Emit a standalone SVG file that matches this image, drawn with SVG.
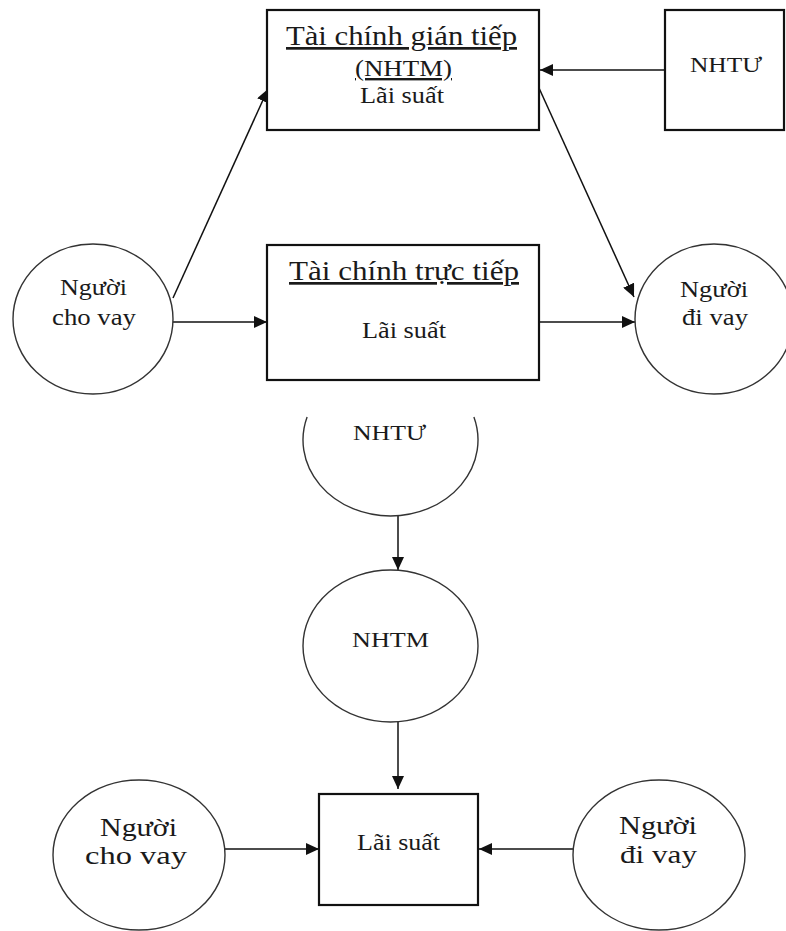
<svg xmlns="http://www.w3.org/2000/svg" width="786" height="931" viewBox="0 0 786 931">
<style>
.box{fill:#fff;stroke:#111;stroke-width:2.2}
.ell{fill:#fff;stroke:#333;stroke-width:1.4}
.t{font-family:"Liberation Serif","Times New Roman",serif;fill:#1a1a1a}
.u{text-decoration:underline}
.c{fill:none;stroke:#111;stroke-width:1.5;marker-end:url(#ah)}
</style>
<defs>
<marker id="ah" markerUnits="userSpaceOnUse" markerWidth="13" markerHeight="12" refX="13" refY="6" orient="auto">
<path d="M0,0 L13,6 L0,12 z" fill="#111"/>
</marker>
</defs>
<rect width="786" height="931" fill="#fff"/>
<g id="connectors">
<line class="c" x1="173" y1="298" x2="268" y2="89"/>
<line class="c" x1="173" y1="322" x2="267" y2="322"/>
<line class="c" x1="665" y1="70" x2="540" y2="70"/>
<line class="c" x1="539" y1="88" x2="634" y2="297"/>
<line class="c" x1="539" y1="322" x2="635" y2="322"/>
<line class="c" x1="398" y1="516" x2="398" y2="570"/>
<line class="c" x1="398" y1="721" x2="398" y2="789"/>
<line class="c" x1="225" y1="849" x2="319" y2="849"/>
<line class="c" x1="573" y1="849" x2="479" y2="849"/>
</g>
<g id="gian-tiep">
<rect class="box" x="267" y="10" width="272" height="120"/>
<text class="t u" x="286" y="45" font-size="27" textLength="231" lengthAdjust="spacingAndGlyphs">Tài chính gián tiếp</text>
<text class="t u" x="355" y="76" font-size="24" textLength="97" lengthAdjust="spacingAndGlyphs">(NHTM)</text>
<text class="t" x="360" y="103" font-size="23" textLength="84" lengthAdjust="spacingAndGlyphs">Lãi suất</text>
</g>
<g id="nhtu-box">
<rect class="box" x="665" y="10" width="119" height="120"/>
<text class="t" x="690" y="72" font-size="22" textLength="72" lengthAdjust="spacingAndGlyphs">NHTƯ</text>
</g>
<g id="truc-tiep">
<rect class="box" x="267" y="245" width="272" height="135"/>
<text class="t u" x="289" y="280" font-size="27" textLength="230" lengthAdjust="spacingAndGlyphs">Tài chính trực tiếp</text>
<text class="t" x="362" y="338" font-size="23" textLength="84" lengthAdjust="spacingAndGlyphs">Lãi suất</text>
</g>
<g id="nguoi-cho-vay-1">
<ellipse class="ell" cx="93" cy="319" rx="80" ry="75"/>
<text class="t" x="60" y="295" font-size="23" textLength="67" lengthAdjust="spacingAndGlyphs">Người</text>
<text class="t" x="52" y="325" font-size="23" textLength="84" lengthAdjust="spacingAndGlyphs">cho vay</text>
</g>
<g id="nguoi-di-vay-1">
<ellipse class="ell" cx="714" cy="319" rx="79" ry="75"/>
<text class="t" x="680" y="297" font-size="23" textLength="68" lengthAdjust="spacingAndGlyphs">Người</text>
<text class="t" x="682" y="325" font-size="23" textLength="66" lengthAdjust="spacingAndGlyphs">đi vay</text>
</g>
<g id="nhtu-circle">
<path class="ell" d="M307.1,417 A87.5,76 0 1 0 473.9,417"/>
<text class="t" x="353" y="440" font-size="22" textLength="73" lengthAdjust="spacingAndGlyphs">NHTƯ</text>
</g>
<g id="nhtm-circle">
<ellipse class="ell" cx="390.5" cy="646" rx="87.5" ry="76"/>
<text class="t" x="352" y="647" font-size="22" textLength="77" lengthAdjust="spacingAndGlyphs">NHTM</text>
</g>
<g id="lai-suat">
<rect class="box" x="319" y="794" width="159" height="111"/>
<text class="t" x="357" y="850" font-size="23" textLength="83" lengthAdjust="spacingAndGlyphs">Lãi suất</text>
</g>
<g id="nguoi-cho-vay-2">
<ellipse class="ell" cx="139" cy="855" rx="86" ry="75"/>
<text class="t" x="100" y="836" font-size="25" textLength="77" lengthAdjust="spacingAndGlyphs">Người</text>
<text class="t" x="85" y="864" font-size="25" textLength="102" lengthAdjust="spacingAndGlyphs">cho vay</text>
</g>
<g id="nguoi-di-vay-2">
<ellipse class="ell" cx="659" cy="855" rx="86" ry="75"/>
<text class="t" x="619" y="834" font-size="25" textLength="78" lengthAdjust="spacingAndGlyphs">Người</text>
<text class="t" x="620" y="863" font-size="25" textLength="77" lengthAdjust="spacingAndGlyphs">đi vay</text>
</g>
</svg>
